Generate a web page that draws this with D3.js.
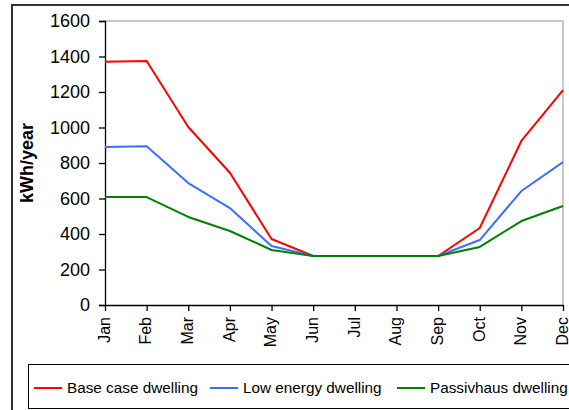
<!DOCTYPE html>
<html>
<head>
<meta charset="utf-8">
<script src="https://cdn.jsdelivr.net/npm/d3@7"></script>
<style>
  html, body { margin: 0; padding: 0; background: #fff; }
  svg { display: block; font-family: "Liberation Sans", Arial, sans-serif; }
</style>
</head>
<body>
<svg id="chart" width="569" height="410"></svg>
<script>
// Monthly heating energy demand (kWh) for three dwelling standards
const months = ["Jan", "Feb", "Mar", "Apr", "May", "Jun", "Jul", "Aug", "Sep", "Oct", "Nov", "Dec"];
const baseCase   = [1370, 1375, 1003, 745, 372, 276, 276, 276, 276, 434, 924, 1210];
const lowEnergy  = [890, 895, 687, 546, 332, 276, 276, 276, 276, 366, 642, 805];
const passivhaus = [608, 608, 496, 417, 310, 276, 276, 276, 276, 327, 473, 558];
const yTicks = [0, 200, 400, 600, 800, 1000, 1200, 1400, 1600];
const seriesNames = ["Base case dwelling", "Low energy dwelling", "Passivhaus dwelling"];
const seriesColors = ["#ff0000", "#3d6dff", "#008000"];

const series = [baseCase, lowEnergy, passivhaus].map((values, i) => ({
  name: seriesNames[i], color: seriesColors[i], values
}));

const svg = d3.select("#chart");
const plot = { left: 105, top: 21, right: 563, bottom: 305 };

// Outer chart frame
svg.append("rect")
  .attr("x", 12).attr("y", 5)
  .attr("width", 600).attr("height", 450)
  .attr("fill", "none").attr("stroke", "#333").attr("stroke-width", 2);

const x = d3.scalePoint().domain(months).range([plot.left, plot.right]);
const y = d3.scaleLinear().domain([0, 1600]).range([plot.bottom, plot.top]);

// Plot area border (top & right in grey)
svg.append("path")
  .attr("d", `M${plot.left},${plot.top}H${plot.right}V${plot.bottom}`)
  .attr("fill", "none").attr("stroke", "#b8b8b8").attr("stroke-width", 1.5);

// Y axis
const yAxis = svg.append("g")
  .attr("transform", `translate(${plot.left},0)`)
  .call(d3.axisLeft(y).tickValues(yTicks).tickFormat(d3.format("d")).tickSize(6).tickPadding(9));
yAxis.selectAll("text").attr("font-size", 18).attr("fill", "#000")
  .attr("font-family", "Liberation Sans, Arial, sans-serif");
yAxis.select(".domain").attr("stroke", "#000").attr("stroke-width", 1.3);
yAxis.selectAll(".tick line").attr("stroke", "#000").attr("stroke-width", 1.3);

// X axis
const xAxis = svg.append("g")
  .attr("transform", `translate(0,${plot.bottom})`)
  .call(d3.axisBottom(x).tickSize(6).tickSizeOuter(0));
xAxis.select(".domain").attr("stroke", "#000").attr("stroke-width", 1.3);
xAxis.selectAll(".tick line").attr("stroke", "#000").attr("stroke-width", 1.3);
xAxis.selectAll("text")
  .attr("font-size", 16).attr("fill", "#000")
  .attr("font-family", "Liberation Sans, Arial, sans-serif")
  .attr("text-anchor", "end")
  .attr("dy", "0.33em")
  .attr("transform", "translate(-1,12) rotate(-90)")
  .attr("x", 0).attr("y", 0);

// Y axis title
svg.append("text")
  .attr("transform", `translate(33,${(plot.top + plot.bottom) / 2}) rotate(-90)`)
  .attr("text-anchor", "middle")
  .attr("font-size", 18).attr("font-weight", "bold")
  .text("kWh/year");

// Lines
const line = d3.line()
  .x((d, i) => x(months[i]))
  .y(d => y(d));

svg.append("g").selectAll("path")
  .data(series)
  .join("path")
  .attr("d", d => line(d.values))
  .attr("fill", "none")
  .attr("stroke", d => d.color)
  .attr("stroke-width", 2)
  .attr("stroke-linejoin", "round");

// Legend
const legend = svg.append("g");
legend.append("rect")
  .attr("x", 28.5).attr("y", 364.5)
  .attr("width", 600).attr("height", 44)
  .attr("fill", "#fff").attr("stroke", "#000").attr("stroke-width", 1);

const legendX = [34, 210, 397];
const items = legend.selectAll("g.item")
  .data(series)
  .join("g")
  .attr("class", "item")
  .attr("transform", (d, i) => `translate(${legendX[i]},388)`);
items.append("line")
  .attr("x1", 0).attr("x2", 28)
  .attr("stroke", d => d.color).attr("stroke-width", 2);
items.append("text")
  .attr("x", 33).attr("dy", "0.35em")
  .attr("font-size", 15.3)
  .text(d => d.name);
</script>
</body>
</html>
